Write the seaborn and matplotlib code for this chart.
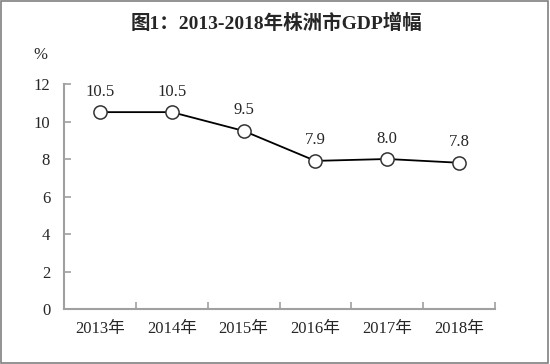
import numpy as np
import pandas as pd
import matplotlib.pyplot as plt
import seaborn as sns
from matplotlib.patches import Rectangle
from matplotlib.ticker import FixedLocator

years = ['2013年', '2014年', '2015年', '2016年', '2017年', '2018年']
growth = [10.5, 10.5, 9.5, 7.9, 8.0, 7.8]
y_ticks = [0, 2, 4, 6, 8, 10, 12]

sns.set_style('white')
# шрифты после set_style, иначе сбросятся
plt.rcParams['font.family'] = ['Liberation Serif', 'Noto Sans CJK SC']

df = pd.DataFrame({'year': years, 'growth': growth})

fig = plt.figure(figsize=(5.5, 3.64), dpi=100)
ax = fig.add_axes([0.1164, 0.1511, 0.7836, 0.6181])

sns.lineplot(data=df, x='year', y='growth', ax=ax, color='black', linewidth=1.3,
             marker='o', markersize=9.5, markerfacecolor='white',
             markeredgecolor='#333333', markeredgewidth=1.1)

for i, v in enumerate(growth):
    ax.annotate(f'{v:.1f}', (i, v), xytext=(0, 9), textcoords='offset points',
                ha='center', va='bottom', fontsize=12)

ax.set_xlim(-0.5, len(years) - 0.5)
ax.set_ylim(0, 12)
ax.set_yticks(y_ticks)
ax.set_xticks(range(len(years)))
ax.set_xticklabels(years)
ax.xaxis.set_minor_locator(FixedLocator(np.arange(-0.5, len(years), 1)))

# в стиле white засечки выключены - включаем
ax.tick_params(axis='x', which='major', bottom=False, length=0, pad=9, labelsize=12)
ax.tick_params(axis='x', which='minor', bottom=True, direction='in', length=5,
               color='#a0a0a0', width=1.2)
ax.tick_params(axis='y', left=True, direction='in', length=5, color='#a0a0a0', width=1.2,
               pad=10, labelsize=12)
ax.set_xlabel('')
ax.set_ylabel('')

for side in ['top', 'right']:
    ax.spines[side].set_visible(False)
for side in ['left', 'bottom']:
    ax.spines[side].set_color('#a0a0a0')
    ax.spines[side].set_linewidth(1.5)

fig.text(0.0727, 0.849, '%', fontsize=12, ha='center', va='center')
fig.text(0.502, 0.935, '图1：2013-2018年株洲市GDP增幅', fontsize=14, fontweight='bold',
         ha='center', va='center')

# рамка вокруг картинки
fig.patches.append(Rectangle((0.002, 0.003), 0.995, 0.993, transform=fig.transFigure,
                             fill=False, edgecolor='#808080', linewidth=1.2))

fig.savefig('out.png', dpi=100)
